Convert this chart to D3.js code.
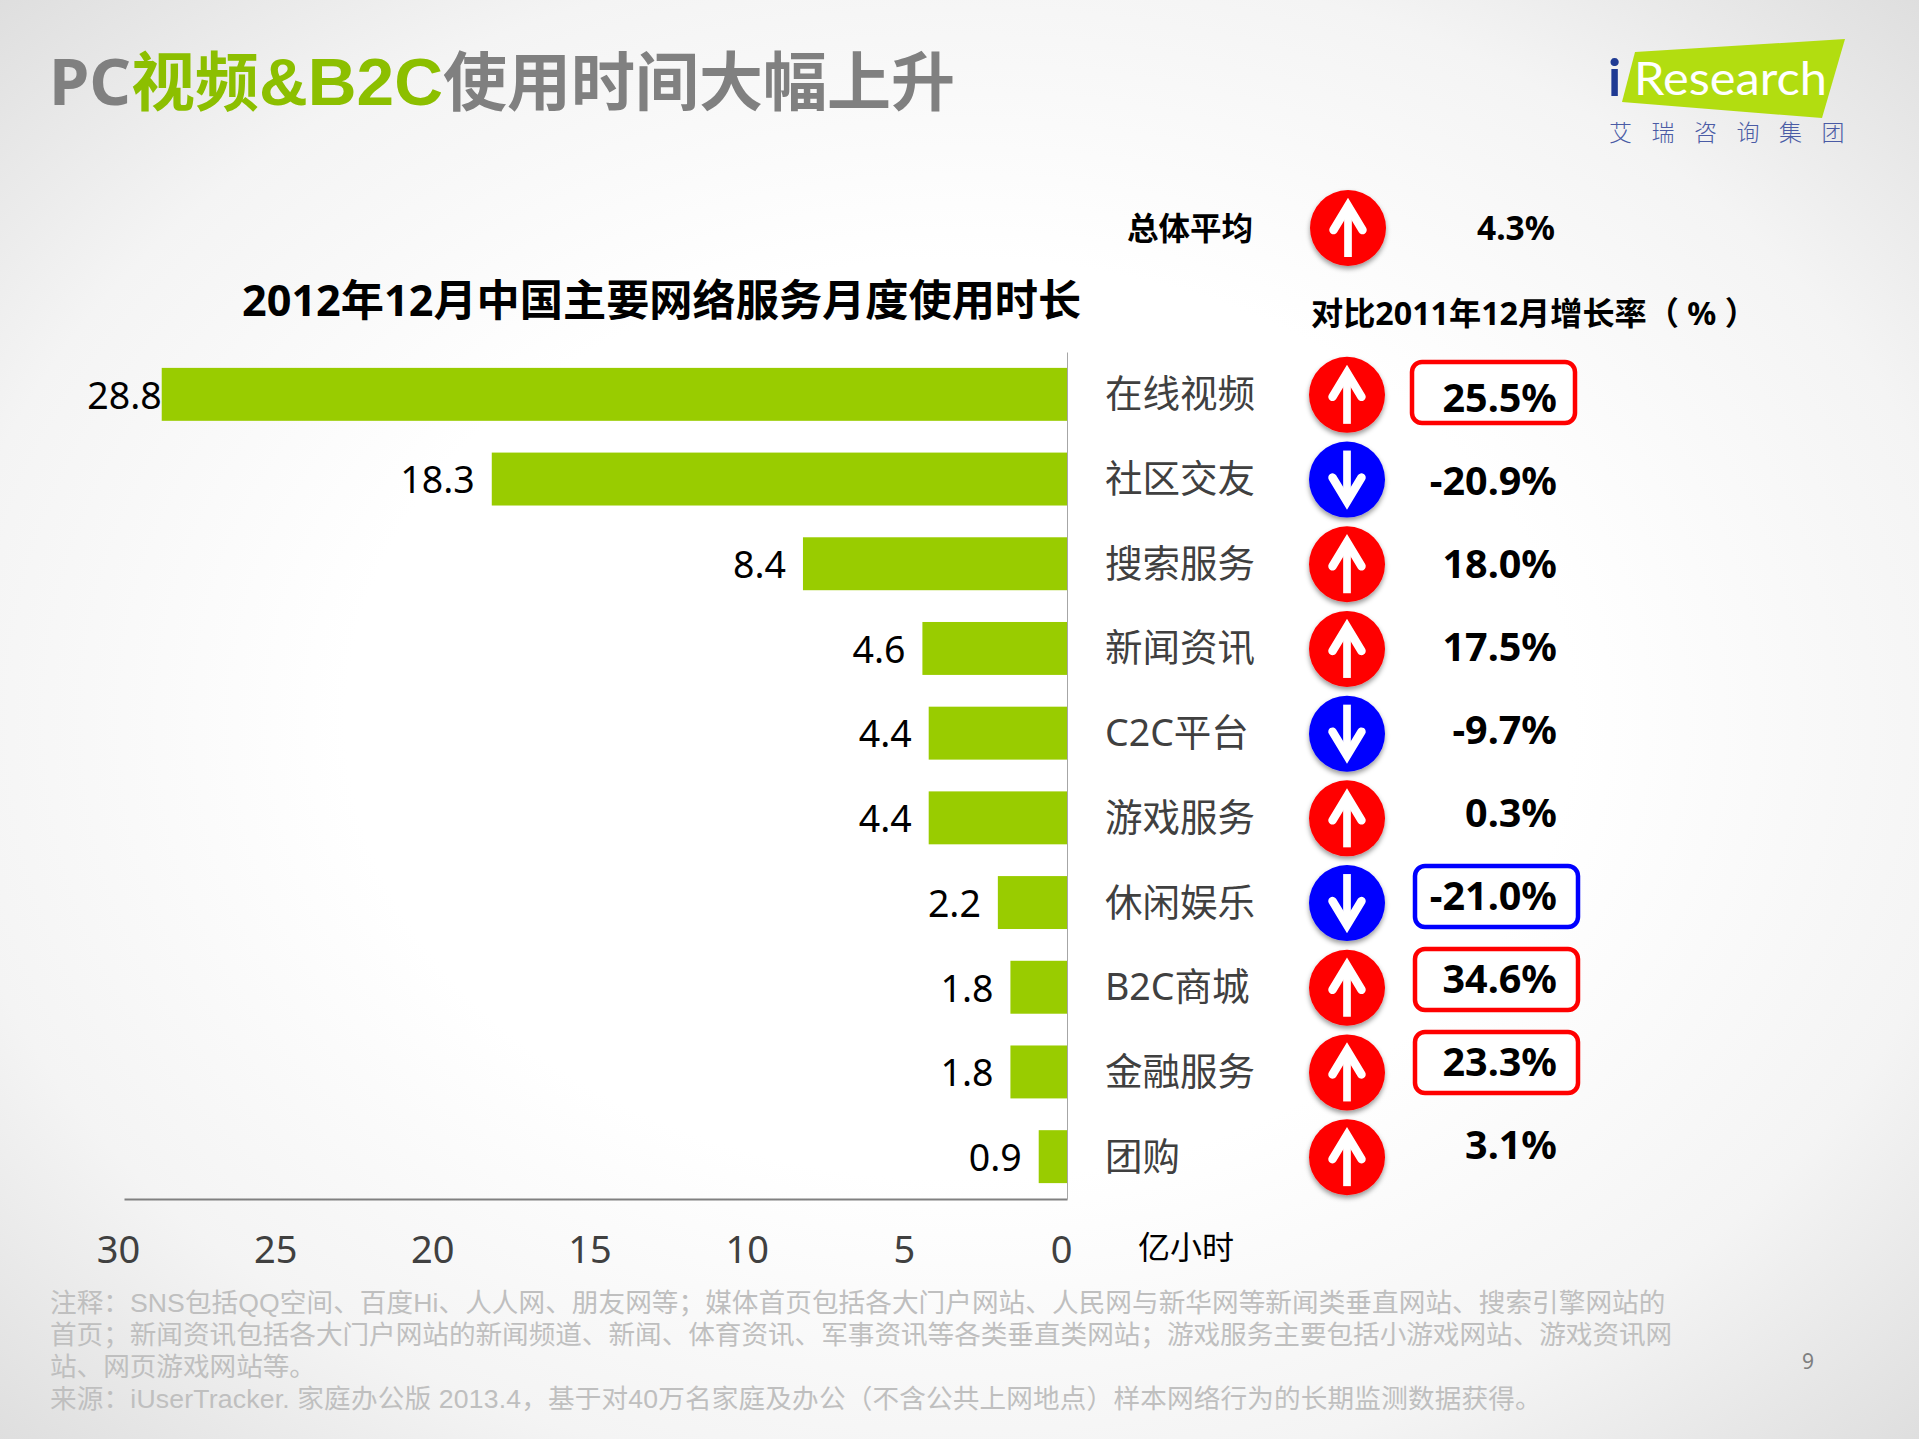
<!DOCTYPE html>
<html>
<head>
<meta charset="utf-8">
<script src="https://d3js.org/d3.v7.min.js"></script>
<style>
    html, body {margin: 0; padding: 0; background: #fff}
    svg {display: block}
    text {font-family: "Noto Sans", "Noto Sans CJK SC", sans-serif}
    .x-axis text {fill: #404040; font-size: 38px}
    .y-axis text {fill: #404040; font-size: 37.5px}
    .note {font-family: "Liberation Sans", "Noto Sans CJK SC", sans-serif}
    .latin {font-family: "Liberation Sans", "Noto Sans CJK SC", sans-serif}
</style>
</head>
<body>
<div id="chart"></div>
<script>
    let categories = ["在线视频", "社区交友", "搜索服务", "新闻资讯", "C2C平台", "游戏服务", "休闲娱乐", "B2C商城", "金融服务", "团购"];
    let hours = [28.8, 18.3, 8.4, 4.6, 4.4, 4.4, 2.2, 1.8, 1.8, 0.9];
    let growth = [25.5, -20.9, 18.0, 17.5, -9.7, 0.3, -21.0, 34.6, 23.3, 3.1];
    let boxed = ["在线视频", "休闲娱乐", "B2C商城", "金融服务"];
    let xTicks = [30, 25, 20, 15, 10, 5, 0];
    let overallGrowth = 4.3;
    let notes = [
        "注释：SNS包括QQ空间、百度Hi、人人网、朋友网等；媒体首页包括各大门户网站、人民网与新华网等新闻类垂直网站、搜索引擎网站的",
        "首页；新闻资讯包括各大门户网站的新闻频道、新闻、体育资讯、军事资讯等各类垂直类网站；游戏服务主要包括小游戏网站、游戏资讯网",
        "站、网页游戏网站等。",
        "来源：iUserTracker. 家庭办公版 2013.4，基于对40万名家庭及办公（不含公共上网地点）样本网络行为的长期监测数据获得。"
    ];
    let logoChars = ["艾", "瑞", "咨", "询", "集", "团"];

    let width = 1919, height = 1439;
    let red = "#ff0000", blue = "#0000ff", barGreen = "#99cc00";

    let svg = d3.select("#chart").append("svg")
        .attr("width", width)
        .attr("height", height)
        .attr("viewBox", "0 0 " + width + " " + height);

    let defs = svg.append("defs");

    let bg = defs.append("radialGradient").attr("id", "bg")
        .attr("cx", "50%").attr("cy", "50%").attr("r", "71%");
    bg.append("stop").attr("offset", "45%").attr("stop-color", "#ffffff");
    bg.append("stop").attr("offset", "75%").attr("stop-color", "#f4f4f4");
    bg.append("stop").attr("offset", "100%").attr("stop-color", "#dedede");

    let shadow = defs.append("filter").attr("id", "shadow")
        .attr("x", "-20%").attr("y", "-20%").attr("width", "140%").attr("height", "140%");
    shadow.append("feDropShadow")
        .attr("dx", 0).attr("dy", 3).attr("stdDeviation", 2.5)
        .attr("flood-color", "#000").attr("flood-opacity", 0.4);

    svg.append("rect").attr("width", width).attr("height", height).attr("fill", "url(#bg)");

    // headline, mixed colours
    let head = svg.append("text").attr("x", 49).attr("y", 105)
        .attr("font-size", 64).attr("font-weight", 700).attr("fill", "#808080");
    head.append("tspan").attr("font-size", 65).text("PC");
    head.append("tspan").attr("fill", "#8cbf00").text("视频");
    head.append("tspan").attr("class", "latin").attr("font-size", 67.5).attr("fill", "#8cbf00").text("&B2C");
    head.append("tspan").text("使用时间大幅上升");

    // logo
    let logo = svg.append("g");
    logo.append("path")
        .attr("d", d3.line()([[1635, 52], [1845, 39], [1822, 118], [1622, 102]]) + "Z")
        .attr("fill", "#b2dd10");
    logo.append("text").attr("x", 1608).attr("y", 96)
        .attr("font-size", 52).attr("font-weight", 700).attr("fill", "#1f3a93")
        .style("font-family", "Lato").text("i");
    logo.append("text").attr("x", 1634).attr("y", 95)
        .attr("font-size", 46).attr("font-weight", 400).attr("fill", "#fff")
        .attr("textLength", 193).attr("lengthAdjust", "spacingAndGlyphs")
        .style("font-family", "Lato").text("Research");
    logo.selectAll(".logo-char")
        .data(logoChars)
        .enter().append("text")
        .attr("class", "logo-char")
        .attr("x", function(d, i) {return 1620.5 + i * 42.5})
        .attr("y", 141)
        .attr("text-anchor", "middle")
        .attr("font-size", 23)
        .attr("font-weight", 300)
        .attr("fill", "#4a5ba5")
        .text(function(d) {return d});

    // chart
    let x = d3.scaleLinear().domain([30, 0]).range([124, 1067]);
    let y = d3.scaleBand().domain(categories).range([352, 1199]).padding(0.375).paddingOuter(0.1875);
    // the growth column in the slide runs on a slightly tighter pitch than the bars
    let yGrowth = d3.scalePoint().domain(categories).range([398, 1145]);

    svg.append("text").attr("x", 242).attr("y", 316)
        .attr("font-size", 43.2).attr("font-weight", 700).attr("fill", "#000")
        .text("2012年12月中国主要网络服务月度使用时长");

    svg.selectAll(".bar")
        .data(categories)
        .enter().append("rect")
        .attr("class", "bar")
        .attr("x", function(d, i) {return x(hours[i])})
        .attr("y", function(d) {return y(d)})
        .attr("width", function(d, i) {return x(0) - x(hours[i])})
        .attr("height", y.bandwidth())
        .attr("fill", barGreen);

    svg.selectAll(".bar-label")
        .data(categories)
        .enter().append("text")
        .attr("class", "bar-label")
        .attr("x", function(d, i) {return x(hours[i]) - (i === 0 ? 0 : 17)})
        .attr("y", function(d) {return y(d) + y.bandwidth() / 2})
        .attr("dy", "0.38em")
        .attr("text-anchor", "end")
        .attr("font-size", 37.5)
        .attr("fill", "#000")
        .text(function(d, i) {return hours[i].toFixed(1)});

    let xAxis = d3.axisBottom(x).tickValues(xTicks).tickSize(0).tickPadding(37);
    let xg = svg.append("g")
        .attr("class", "x-axis")
        .attr("transform", "translate(0,1199)")
        .call(xAxis);
    xg.select(".domain").attr("stroke", "#808080").attr("stroke-width", 2);
    xg.selectAll(".tick text").attr("dx", -6);

    let yAxis = d3.axisRight(y).tickSize(0).tickPadding(38);
    let yg = svg.append("g")
        .attr("class", "y-axis")
        .attr("transform", "translate(1067,0)")
        .call(yAxis);
    yg.select(".domain").attr("stroke", "#a6a6a6").attr("stroke-width", 1);
    yg.selectAll(".tick text").attr("y", 1);

    svg.append("text").attr("x", 1138).attr("y", 1259)
        .attr("font-size", 32).attr("fill", "#000").text("亿小时");

    // arrow badges
    function badge(sel, cx, cy, up) {
        let g = sel.append("g").attr("transform", "translate(" + cx + "," + cy + ")");
        g.append("circle").attr("r", 38).attr("fill", up ? red : blue).attr("filter", "url(#shadow)");
        let arrow = g.append("g").attr("transform", up ? null : "rotate(180)");
        arrow.append("line")
            .attr("y1", -22).attr("y2", 29)
            .attr("stroke", "#fff").attr("stroke-width", 7.7);
        arrow.append("path")
            .attr("d", d3.line()([[-14.5, 2], [0, -22], [14.5, 2]]))
            .attr("fill", "none").attr("stroke", "#fff").attr("stroke-width", 8.5)
            .attr("stroke-linecap", "round").attr("stroke-linejoin", "miter");
    }

    badge(svg, 1348, 228, overallGrowth >= 0);
    categories.forEach(function(c, i) {
        badge(svg, 1347, y(c) + y.bandwidth() / 2 + 0.5, growth[i] >= 0);
    });

    // growth column
    svg.append("text").attr("x", 1127).attr("y", 240)
        .attr("font-size", 31.5).attr("font-weight", 700).attr("fill", "#000").text("总体平均");
    svg.append("text").attr("x", 1555).attr("y", 228).attr("dy", "0.36em")
        .attr("text-anchor", "end")
        .attr("font-size", 33.5).attr("font-weight", 700).attr("fill", "#000")
        .text(overallGrowth.toFixed(1) + "%");
    svg.append("text").attr("x", 1311).attr("y", 325)
        .attr("font-size", 32.2).attr("font-weight", 700).attr("fill", "#000")
        .text("对比2011年12月增长率（ % ）");

    svg.selectAll(".growth-box")
        .data(boxed)
        .enter().append("rect")
        .attr("class", "growth-box")
        .attr("x", function(d) {return d === categories[0] ? 1412 : 1415})
        .attr("y", function(d) {return yGrowth(d) - 30 - (d === categories[0] ? 6 : 0)})
        .attr("width", 163)
        .attr("height", 61)
        .attr("rx", 10)
        .attr("fill", "#fff")
        .attr("stroke", function(d) {return growth[categories.indexOf(d)] >= 0 ? red : blue})
        .attr("stroke-width", 4.5);

    svg.selectAll(".growth-label")
        .data(categories)
        .enter().append("text")
        .attr("class", "growth-label")
        .attr("x", 1557)
        .attr("y", function(d) {return yGrowth(d)})
        .attr("dy", "0.36em")
        .attr("text-anchor", "end")
        .attr("font-size", 39.5)
        .attr("font-weight", 700)
        .attr("fill", "#000")
        .text(function(d, i) {return growth[i].toFixed(1) + "%"});

    // footnotes, lines with latin words run a little wider in the slide
    svg.selectAll(".note")
        .data(notes)
        .enter().append("text")
        .attr("class", "note")
        .attr("x", 50)
        .attr("y", function(d, i) {return 1312 + i * 32})
        .attr("font-size", 26.6)
        .attr("letter-spacing", function(d, i) {return i === 0 ? 0.08 : i === 3 ? 0.18 : 0})
        .attr("fill", "#bfbfbf")
        .text(function(d) {return d});

    svg.append("text").attr("x", 1808).attr("y", 1369)
        .attr("text-anchor", "middle")
        .attr("font-size", 21)
        .attr("fill", "#7f7f7f")
        .text("9");
</script>
</body>
</html>
